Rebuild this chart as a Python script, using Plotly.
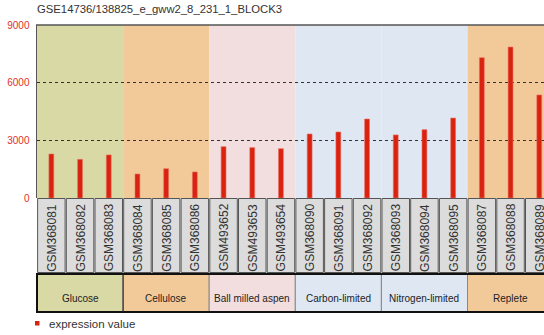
import plotly.graph_objects as go

title_text = "GSE14736/138825_e_gww2_8_231_1_BLOCK3"
samples = ["GSM368081", "GSM368082", "GSM368083", "GSM368084", "GSM368085", "GSM368086",
           "GSM493652", "GSM493653", "GSM493654", "GSM368090", "GSM368091", "GSM368092",
           "GSM368093", "GSM368094", "GSM368095", "GSM368087", "GSM368088", "GSM368089"]
values = [2290, 2010, 2240, 1250, 1525, 1355,
          2670, 2620, 2565, 3330, 3435, 4110,
          3280, 3555, 4160, 7300, 7855, 5360]
groups = ["Glucose", "Cellulose", "Ball milled aspen", "Carbon-limited", "Nitrogen-limited", "Replete"]
group_sizes = [3, 3, 3, 3, 3, 3]
group_colors = ["#D9D9A6", "#F2CA9A", "#F2DEDE", "#DFE8F2", "#DFE8F2", "#F2CA9A"]
y_ticks = [0, 3000, 6000, 9000]
legend_name = "expression value"

W, H = 544, 335
L, T, B = 37, 25, 137
plot_h = H - T - B
plot_w = W - L
cell_px = 28.7
x_end = -0.5 + plot_w / cell_px

def py(pix):
    return (T + plot_h - pix) / plot_h

def px(pix):
    return (pix - L) / plot_w

fig = go.Figure()
fig.add_trace(go.Bar(x=list(range(len(samples))), y=values, width=0.17,
                     marker=dict(color="#DA2210", line=dict(color="#E8705F", width=0.6)),
                     name=legend_name, showlegend=False))

shapes = []
annotations = []
start = 0
for g, n, c in zip(groups, group_sizes, group_colors):
    x0, x1 = start - 0.5, start + n - 0.5
    shapes.append(dict(type="rect", xref="x", yref="paper", x0=x0, x1=x1, y0=0, y1=1,
                       fillcolor=c, line=dict(width=0), layer="below"))
    shapes.append(dict(type="rect", xref="x", yref="paper", x0=x0, x1=x1,
                       y0=py(312), y1=py(274), fillcolor=c,
                       line=dict(color="#888888", width=1)))
    annotations.append(dict(text=g, xref="x", yref="paper", x=(x0 + x1) / 2, y=py(298),
                            showarrow=False, yanchor="middle",
                            font=dict(family="Liberation Sans, Arial", size=10, color="#222222")))
    start += n

gap = 0.6 / cell_px
for i, s in enumerate(samples):
    shapes.append(dict(type="rect", xref="x", yref="paper", x0=i - 0.5 + gap, x1=i + 0.5 - gap,
                       y0=py(272.5), y1=py(198.5), fillcolor="#DCDCDC",
                       line=dict(color="#555555", width=1)))
    annotations.append(dict(text=s, xref="x", yref="paper", x=i, y=py(237.5),
                            showarrow=False, textangle=-90, yanchor="middle", xanchor="center",
                            font=dict(family="Liberation Sans, Arial", size=12, color="#333333")))

# thick black border lines of group row
shapes.append(dict(type="line", xref="paper", yref="paper", x0=px(36), x1=1, y0=py(274), y1=py(274),
                   line=dict(color="#111111", width=2)))
shapes.append(dict(type="line", xref="paper", yref="paper", x0=px(36), x1=1, y0=py(312), y1=py(312),
                   line=dict(color="#111111", width=2)))
shapes.append(dict(type="line", xref="paper", yref="paper", x0=px(37), x1=px(37), y0=py(273), y1=py(313),
                   line=dict(color="#111111", width=2)))
shapes.append(dict(type="line", xref="x", yref="paper", x0=2.5, x1=2.5, y0=py(274), y1=py(312),
                   line=dict(color="#222222", width=1)))
# top border of plot
shapes.append(dict(type="line", xref="paper", yref="paper", x0=px(36), x1=1, y0=1, y1=1,
                   line=dict(color="#555555", width=1.5)))
# legend
shapes.append(dict(type="rect", xref="paper", yref="paper", x0=px(35), x1=px(39.5), y0=py(325.5), y1=py(321),
                   fillcolor="#DA2210", line=dict(width=0)))
annotations.append(dict(text=legend_name, xref="paper", yref="paper", x=px(47), y=py(324),
                        xanchor="left", yanchor="middle", showarrow=False,
                        font=dict(family="Liberation Sans, Arial", size=11.5, color="#333333")))

fig.update_layout(
    width=W, height=H,
    margin=dict(l=L, r=0, t=T, b=B, pad=0),
    paper_bgcolor="white", plot_bgcolor="white",
    title=dict(text=title_text, x=0, xref="paper", xanchor="left",
               y=1 - 9.5 / H, yref="container", yanchor="middle",
               font=dict(family="Liberation Sans, Arial", size=11.3, color="#333333")),
    xaxis=dict(range=[-0.5, x_end], showticklabels=False, showgrid=False, zeroline=False,
               showline=False, ticks="", fixedrange=True),
    yaxis=dict(range=[0, 9000], tickvals=y_ticks, ticktext=[str(v) for v in y_ticks],
               showgrid=True, gridcolor="#333333", griddash="dot", gridwidth=1,
               zeroline=False, showline=True, linecolor="#555555", linewidth=1.5,
               ticks="", ticklabelstandoff=4, fixedrange=True,
               tickfont=dict(family="Liberation Sans, Arial", size=10, color="#E0302A")),
    shapes=shapes, annotations=annotations, bargap=0,
)
fig.write_html("out.html", config={"displayModeBar": False, "staticPlot": True},
               post_script="document.body.style.margin='0px';document.body.style.overflow='hidden';")
